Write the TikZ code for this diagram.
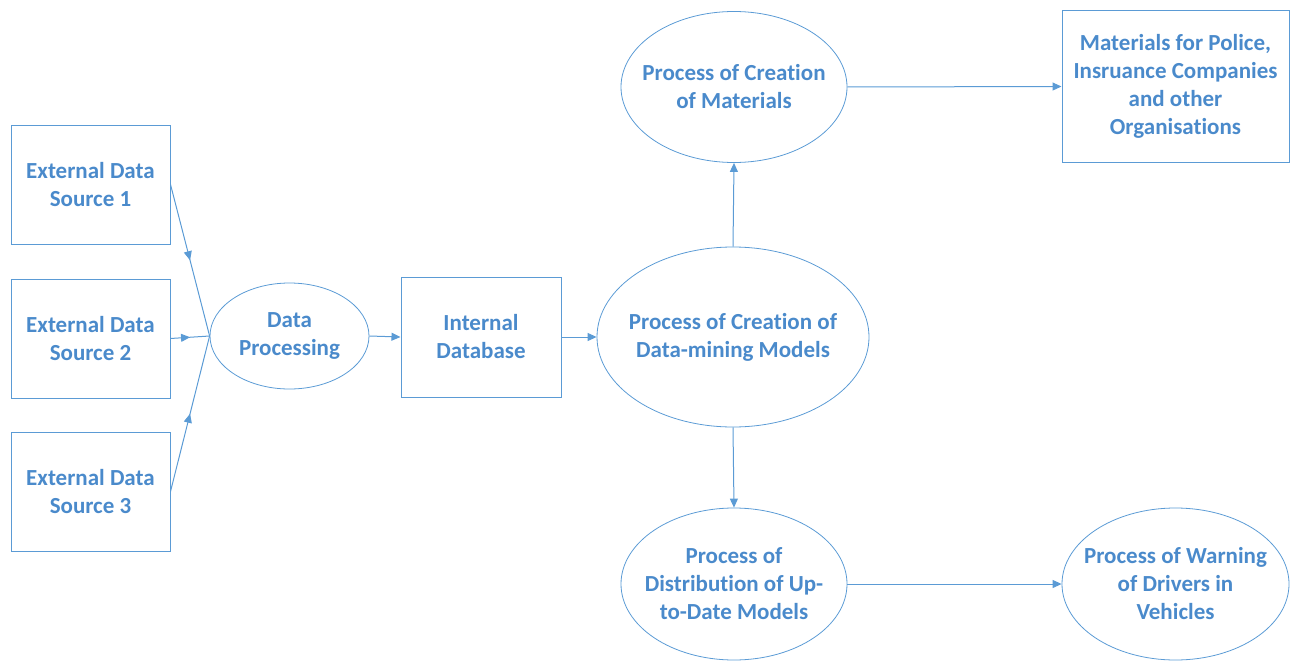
\documentclass[tikz,border=0pt]{standalone}
\usepackage{fontspec}
\setmainfont{Carlito}[Ligatures=NoCommon]
\usetikzlibrary{shapes.geometric,arrows.meta,decorations.markings}
\definecolor{lineblue}{HTML}{5B9BD5}
\definecolor{textblue}{HTML}{4A8ACB}
\begin{document}
\begin{tikzpicture}[x=1pt,y=-1pt,
  txt/.style={font=\fontsize{23}{28}\selectfont\bfseries, text=textblue, align=center, inner sep=0pt},
  boxnode/.style={txt, draw=lineblue, line width=1pt, rectangle},
  ellnode/.style={draw=lineblue, line width=0.8pt, ellipse, inner sep=0pt,
    label={[txt]center:#1}},
  conn/.style={draw=lineblue, line width=1pt, -{Triangle[width=8pt,length=9pt]}},
  midconn/.style={draw=lineblue, line width=1pt, postaction={decorate},
    decoration={markings, mark=at position 0.5 with {\arrow{Triangle[width=8pt,length=9pt]}}}}]
\useasboundingbox (0,0) rectangle (1296,661);
\node[boxnode, minimum width=159pt, minimum height=119pt] (es1) at (90.5,184.5) {External Data\\Source 1};
\node[boxnode, minimum width=159pt, minimum height=119pt] (es2) at (90.5,338.5) {External Data\\Source 2};
\node[boxnode, minimum width=159pt, minimum height=119pt] (es3) at (90.5,491.5) {External Data\\Source 3};
\node[ellnode={Data\\Processing}, minimum width=159pt, minimum height=106pt] (dp) at (289.5,336) {};
\node[boxnode, minimum width=160pt, minimum height=120pt] (idb) at (481,337) {Internal\\Database};
\node[ellnode={Process of Creation of\\Data-mining Models}, minimum width=272pt, minimum height=180pt] (dm) at (733,337) {};
\node[ellnode={Process of Creation\\of Materials}, minimum width=226pt, minimum height=151pt] (cm) at (734,87) {};
\node[boxnode, minimum width=227pt, minimum height=151pt] (mat) at (1175.5,86.5) {Materials for Police,\\Insruance Companies\\and other\\Organisations};
\node[ellnode={Process of\\Distribution of Up-\\to-Date Models}, minimum width=226pt, minimum height=152pt] (dist) at (734,584) {};
\node[ellnode={Process of Warning\\of Drivers in\\Vehicles}, minimum width=227pt, minimum height=152pt] (warn) at (1175.5,584) {};
\draw[midconn] (es1.east) -- (dp.west);
\draw[midconn] (es2.east) -- (dp.west);
\draw[midconn] (es3.east) -- (dp.west);
\draw[conn] (dp.east) -- (idb.west);
\draw[conn] (idb.east) -- (dm.west);
\draw[conn] (dm.north) -- (cm.south);
\draw[conn] (dm.south) -- (dist.north);
\draw[conn] (cm.east) -- (mat.west);
\draw[conn] (dist.east) -- (warn.west);
\end{tikzpicture}
\end{document}
